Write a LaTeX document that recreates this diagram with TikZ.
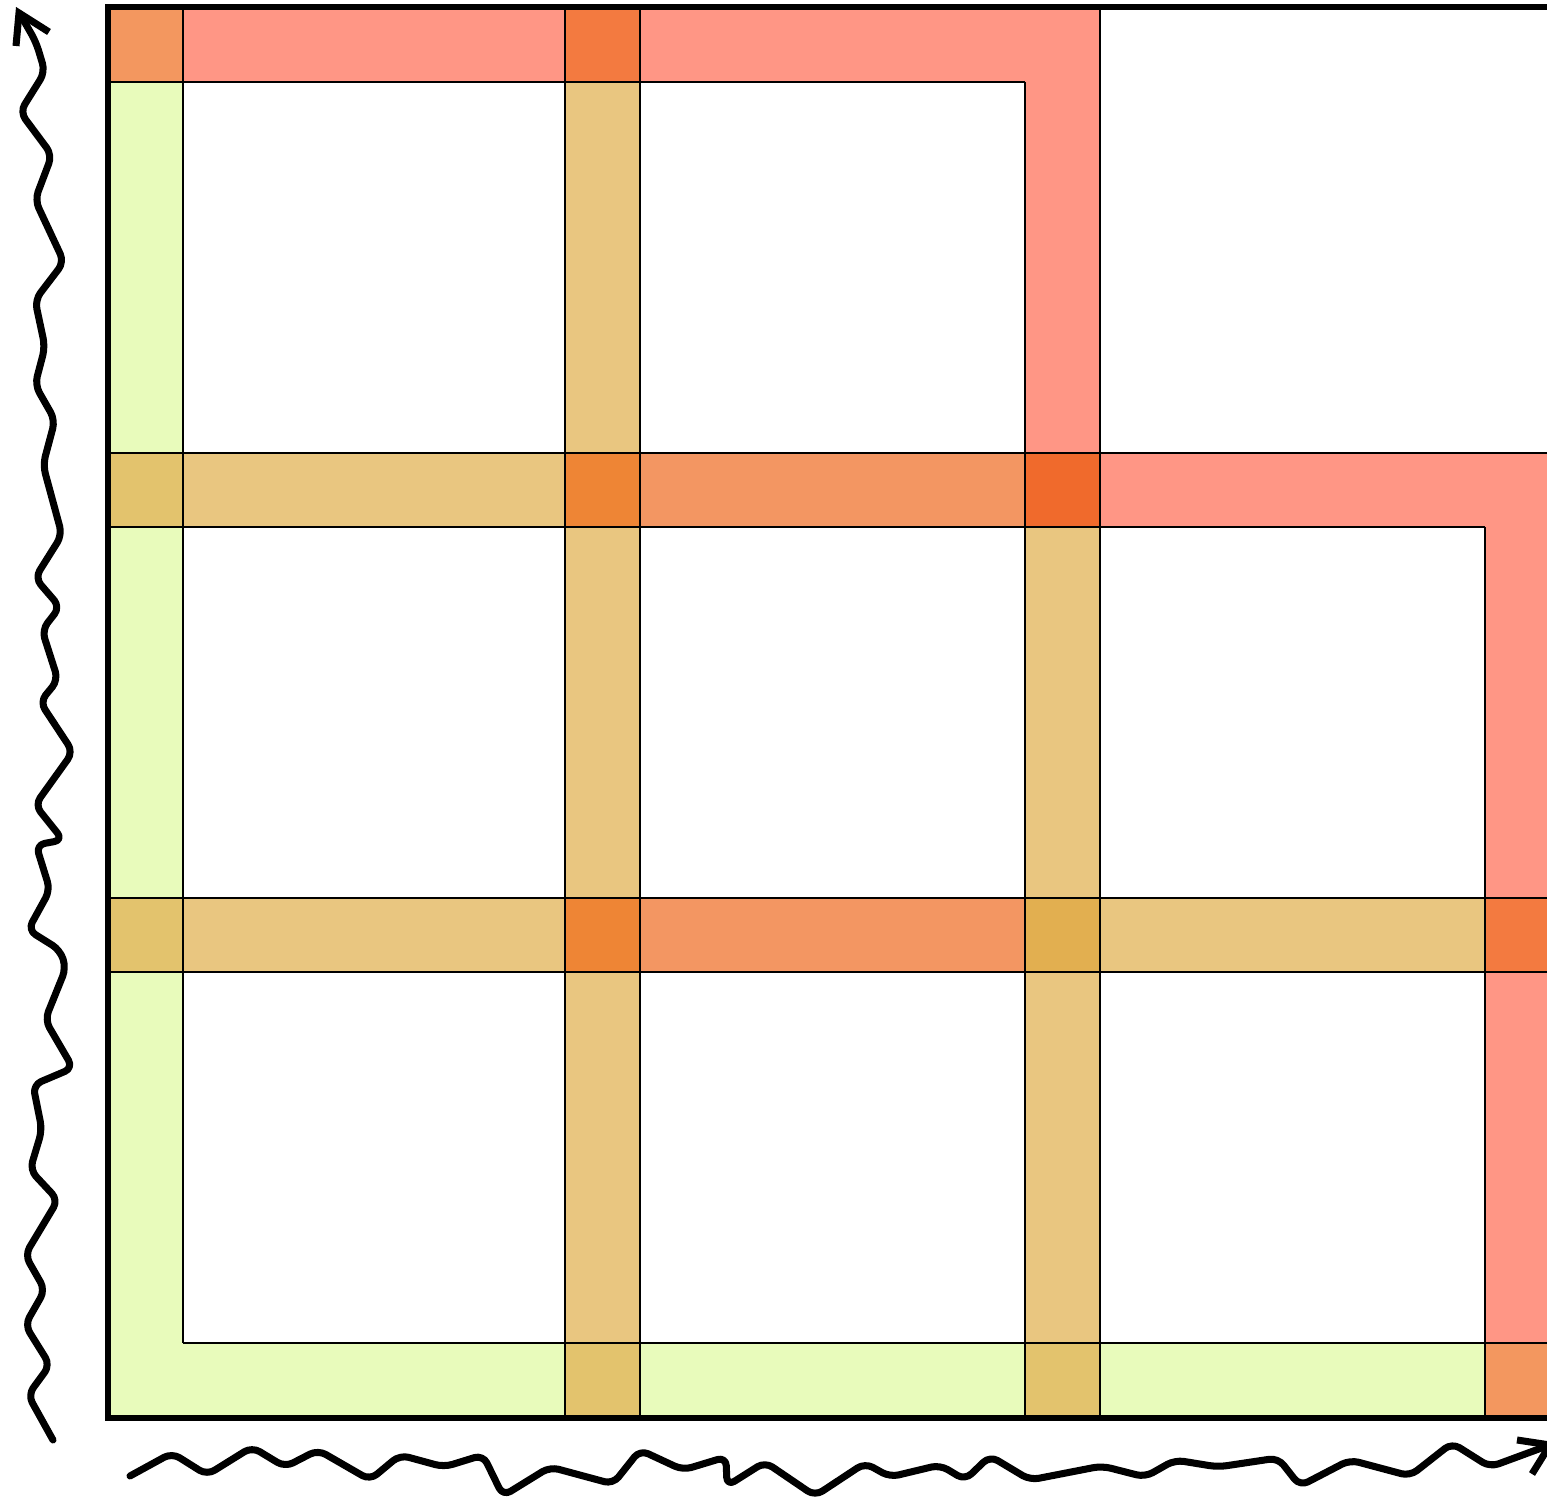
\documentclass[tikz,border=0pt]{standalone}
\usetikzlibrary{arrows.meta}
\definecolor{cgreen}{HTML}{E8FBBB}
\definecolor{csalmon}{HTML}{FF9685}
\definecolor{ctan}{HTML}{E9C680}
\definecolor{cgt}{HTML}{E3C36D}
\definecolor{cgr}{HTML}{F3975F}
\definecolor{crt}{HTML}{F37A40}
\definecolor{cdo}{HTML}{EE8535}
\definecolor{cor}{HTML}{F39662}
\definecolor{cdk}{HTML}{F06A2C}
\definecolor{cgold}{HTML}{E2AF50}
\tikzset{
  gridline/.style={black, line width=0.8pt},
  frameline/.style={black, line width=1.5pt, line cap=rect},
  wiggle/.style={black, line width=2pt, line join=round, line cap=round, rounded corners=2.5pt},
  headline/.style={black, line width=2pt, line join=miter, line cap=butt},
}
\begin{document}
\begin{tikzpicture}[x=0.01cm,y=-0.01cm]
\useasboundingbox (0,0) rectangle (1547,1498);
\begin{scope}
\clip (0,0) rectangle (1547,1498);
% ---- fills ----
% top row
\fill[cgr] (108,7) rectangle (183,82);
\fill[csalmon] (183,7) rectangle (565,82);
\fill[crt] (565,7) rectangle (640,82);
\fill[csalmon] (640,7) rectangle (1100,82);
% rows 82-453
\fill[cgreen] (108,82) rectangle (183,453);
\fill[ctan] (565,82) rectangle (640,453);
\fill[csalmon] (1025,82) rectangle (1100,453);
% row r2
\fill[cgt] (108,453) rectangle (183,527);
\fill[ctan] (183,453) rectangle (565,527);
\fill[cdo] (565,453) rectangle (640,527);
\fill[cor] (640,453) rectangle (1025,527);
\fill[cdk] (1025,453) rectangle (1100,527);
\fill[csalmon] (1100,453) rectangle (1560,527);
% rows 527-898
\fill[cgreen] (108,527) rectangle (183,898);
\fill[ctan] (565,527) rectangle (640,898);
\fill[ctan] (1025,527) rectangle (1100,898);
\fill[csalmon] (1485,527) rectangle (1560,898);
% row r1
\fill[cgt] (108,898) rectangle (183,972);
\fill[ctan] (183,898) rectangle (565,972);
\fill[cdo] (565,898) rectangle (640,972);
\fill[cor] (640,898) rectangle (1025,972);
\fill[cgold] (1025,898) rectangle (1100,972);
\fill[ctan] (1100,898) rectangle (1485,972);
\fill[crt] (1485,898) rectangle (1560,972);
% rows 972-1343
\fill[cgreen] (108,972) rectangle (183,1343);
\fill[ctan] (565,972) rectangle (640,1343);
\fill[ctan] (1025,972) rectangle (1100,1343);
\fill[csalmon] (1485,972) rectangle (1560,1343);
% bottom row
\fill[cgreen] (108,1343) rectangle (565,1418);
\fill[cgt] (565,1343) rectangle (640,1418);
\fill[cgreen] (640,1343) rectangle (1025,1418);
\fill[cgt] (1025,1343) rectangle (1100,1418);
\fill[cgreen] (1100,1343) rectangle (1485,1418);
\fill[cgr] (1485,1343) rectangle (1560,1418);
% ---- grid lines ----
\draw[gridline] (108,82) -- (1025,82);
\draw[gridline] (108,453) -- (1560,453);
\draw[gridline] (108,527) -- (1485,527);
\draw[gridline] (108,898) -- (1560,898);
\draw[gridline] (108,972) -- (1560,972);
\draw[gridline] (183,1343) -- (1560,1343);
\draw[gridline] (183,7) -- (183,1343);
\draw[gridline] (565,7) -- (565,1418);
\draw[gridline] (640,7) -- (640,1418);
\draw[gridline] (1025,82) -- (1025,1418);
\draw[gridline] (1100,7) -- (1100,1418);
\draw[gridline] (1485,527) -- (1485,1418);
% ---- outer frame ----
\draw[frameline] (1560,7) -- (108,7) -- (108,1418) -- (1560,1418);
% ---- left wavy arrow ----
\draw[wiggle] (53,1440) -- (28,1395) -- (50,1365) -- (25,1325) -- (45,1290)
  -- (25,1255) -- (58,1200) -- (30,1170) -- (42,1130) -- (33,1085) -- (73,1068)
  -- (45,1020) -- (66,968) -- (60,950) -- (28,930) -- (50,890) -- (36,845)
  -- (63,840) -- (35,805) -- (73,752) -- (40,702) -- (58,680) -- (42,630)
  -- (60,607) -- (35,578) -- (62,535) -- (43,465) -- (55,420) -- (35,385)
  -- (45,347) -- (35,300) -- (64,262) -- (35,200) -- (52,155) -- (20,112)
  -- (45,72) -- (36,42) -- (20,14);
\coordinate (ltip) at (19,13);
\draw[headline] (16,46) -- (ltip) -- (49,32);
% ---- bottom wavy arrow ----
\draw[wiggle] (130,1476) -- (172,1453) -- (207,1475) -- (252,1447) -- (285,1467)
  -- (318,1450) -- (370,1480) -- (400,1455) -- (444,1467) -- (483,1455)
  -- (503,1496) -- (550,1467) -- (613,1484) -- (640,1450) -- (683,1470)
  -- (726,1457) -- (727,1486) -- (765,1462) -- (815,1496) -- (865,1463)
  -- (890,1477) -- (940,1465) -- (965,1480) -- (990,1456) -- (1030,1480)
  -- (1102,1466) -- (1145,1477) -- (1175,1460) -- (1218,1467) -- (1278,1458)
  -- (1300,1486) -- (1350,1460) -- (1410,1476) -- (1452,1443) -- (1490,1467)
  -- (1547,1446);
\coordinate (btip) at (1550,1445);
\draw[headline] (1517,1440) -- (btip) -- (1532,1474);
\end{scope}
\end{tikzpicture}
\end{document}
